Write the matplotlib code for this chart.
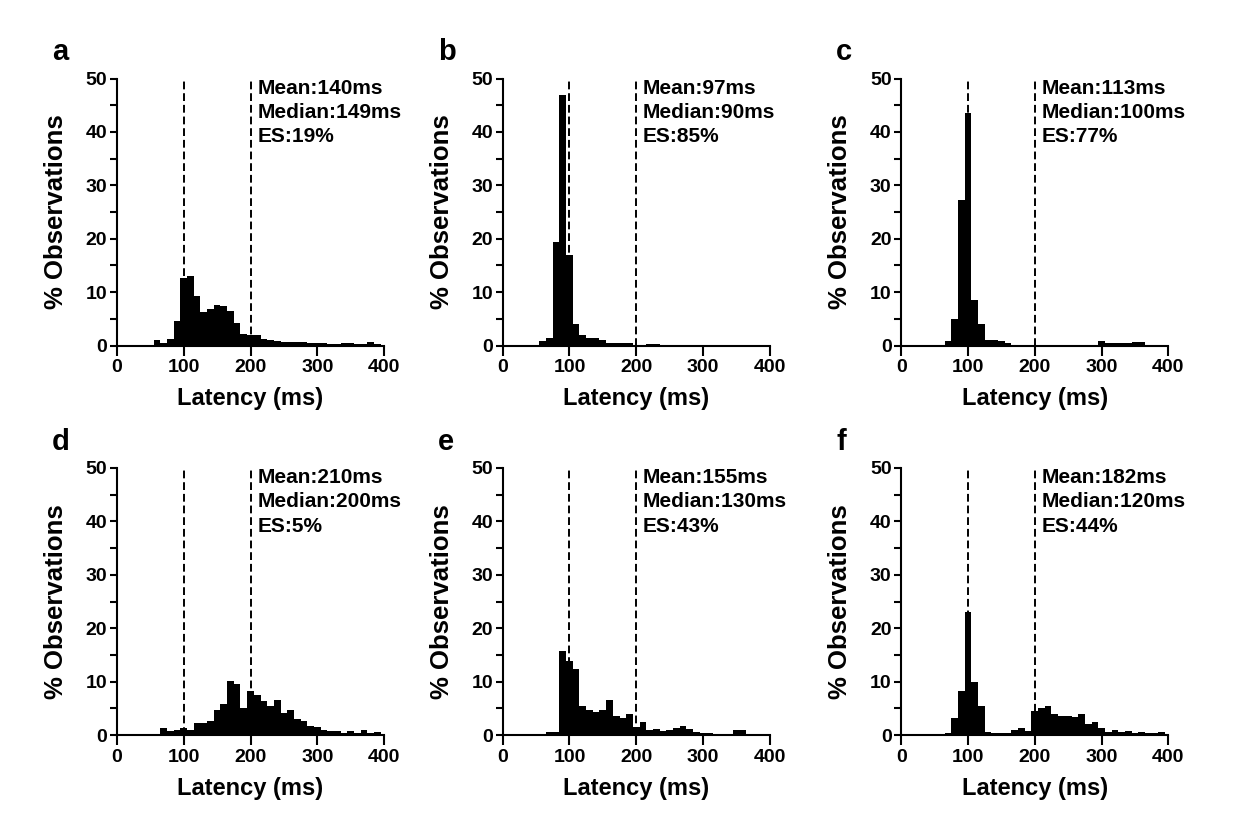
import matplotlib
matplotlib.use("Agg")
import matplotlib.pyplot as plt
from matplotlib.ticker import MultipleLocator

plt.rcParams['font.family'] = ['Liberation Sans', 'DejaVu Sans']
plt.rcParams['font.weight'] = 'bold'

# bin centres (ms), 10 ms wide bins
bin_centers = [50, 60, 70, 80, 90, 100, 110, 120, 130, 140, 150, 160, 170, 180, 190,
               200, 210, 220, 230, 240, 250, 260, 270, 280, 290, 300, 310, 320, 330,
               340, 350, 360, 370, 380, 390]

# % observations per bin
hist_a = [0.0, 1.0, 0.5, 1.2, 4.6, 12.6, 13.0, 9.2, 6.2, 6.8, 7.6, 7.4, 6.4, 4.3, 2.2,
          2.0, 1.9, 1.3, 1.1, 0.9, 0.7, 0.6, 0.6, 0.6, 0.5, 0.5, 0.4, 0.3, 0.3,
          0.5, 0.5, 0.3, 0.3, 0.6, 0.2]
hist_b = [0.0, 0.8, 1.4, 19.3, 47.0, 17.0, 4.1, 2.0, 1.4, 1.4, 1.0, 0.5, 0.5, 0.5, 0.5,
          0.0, 0.0, 0.3, 0.3, 0.0, 0.0, 0.0, 0.0, 0.0, 0.0, 0.0, 0.0, 0.0, 0.0,
          0.0, 0.0, 0.0, 0.0, 0.0, 0.0]
hist_c = [0.0, 0.0, 0.8, 4.9, 27.3, 43.6, 8.5, 4.0, 1.0, 1.0, 0.9, 0.4, 0.0, 0.0, 0.0,
          0.0, 0.0, 0.0, 0.0, 0.0, 0.0, 0.0, 0.0, 0.0, 0.0, 0.8, 0.4, 0.4, 0.4,
          0.4, 0.7, 0.7, 0.0, 0.0, 0.0]
hist_d = [0.0, 0.0, 1.3, 0.8, 1.0, 1.4, 1.0, 2.3, 2.3, 2.6, 4.6, 5.8, 10.2, 9.6, 5.1,
          8.2, 7.4, 6.4, 5.4, 6.5, 4.2, 4.6, 3.0, 2.6, 1.6, 1.5, 1.0, 0.8, 0.8,
          0.4, 0.8, 0.4, 0.9, 0.3, 0.5]
hist_e = [0.0, 0.0, 0.5, 0.5, 15.8, 13.9, 12.4, 5.5, 4.6, 4.4, 4.6, 6.6, 3.6, 3.2, 3.9,
          1.5, 2.5, 1.0, 1.2, 0.8, 1.0, 1.3, 1.7, 1.2, 0.5, 0.3, 0.3, 0.0, 0.2,
          0.0, 0.9, 0.9, 0.0, 0.0, 0.0]
hist_f = [0.0, 0.0, 0.3, 3.1, 8.3, 23.0, 9.9, 5.5, 0.5, 0.3, 0.3, 0.3, 1.0, 1.3, 0.8,
          4.5, 5.0, 5.5, 3.9, 3.5, 3.6, 3.3, 3.9, 2.0, 2.5, 1.3, 0.5, 0.9, 0.5,
          0.8, 0.4, 0.6, 0.3, 0.3, 0.5]

panel_letters = ['a', 'b', 'c', 'd', 'e', 'f']
panel_hists = [hist_a, hist_b, hist_c, hist_d, hist_e, hist_f]
means = [140, 97, 113, 210, 155, 182]
medians = [149, 90, 100, 200, 130, 120]
es_values = [19, 85, 77, 5, 43, 44]
ref_lines = [100, 200]

W, H = 1255, 834
fig = plt.figure(figsize=(W / 100, H / 100), dpi=100)

# axes placement in pixels: left edge and y of the zero line
lefts = [117, 502.7, 901.3]
zero_y = [345.5, 735]
ax_w, ax_h = 267, 267

for i, (letter, hist) in enumerate(zip(panel_letters, panel_hists)):
    row, col = divmod(i, 3)
    left = lefts[col]
    bottom = zero_y[row]
    ax = fig.add_axes([left / W, (H - bottom) / H, ax_w / W, ax_h / H])

    ax.bar(bin_centers, hist, width=10, color='black', edgecolor='none')
    ax.vlines(ref_lines, 0, 50, colors='black', linestyles=(0, (4, 2)), linewidth=1.4)

    ax.set_xlim(0, 400)
    ax.set_ylim(0, 50)
    ax.xaxis.set_major_locator(MultipleLocator(100))
    ax.yaxis.set_major_locator(MultipleLocator(10))
    ax.yaxis.set_minor_locator(MultipleLocator(5))

    for s in ['top', 'right']:
        ax.spines[s].set_visible(False)
    for s in ['left', 'bottom']:
        ax.spines[s].set_linewidth(1.5)

    ax.tick_params(axis='x', which='major', length=7, width=1.5, pad=3, labelsize=14)
    ax.tick_params(axis='y', which='major', length=5, width=1.5, pad=2, labelsize=14)
    ax.tick_params(axis='y', which='minor', length=5, width=1.5)

    ax.set_xlabel('Latency (ms)', fontsize=17, fontweight='bold')
    ax.set_ylabel('% Observations', fontsize=18.5, fontweight='bold')
    ax.xaxis.set_label_coords(0.5, -42 / ax_h)
    ax.yaxis.set_label_coords(-49 / ax_w, 0.5)

    ax.text(210, 50, f"Mean:{means[i]}ms\nMedian:{medians[i]}ms\nES:{es_values[i]}%",
            ha='left', va='top', fontsize=15, fontweight='bold', linespacing=1.35)

    fig.text((left - 65) / W, (H - (bottom - ax_h - 18)) / H, letter,
             fontsize=21, fontweight='bold', ha='left', va='baseline')

fig.savefig('out.png', dpi=100, facecolor='white')
